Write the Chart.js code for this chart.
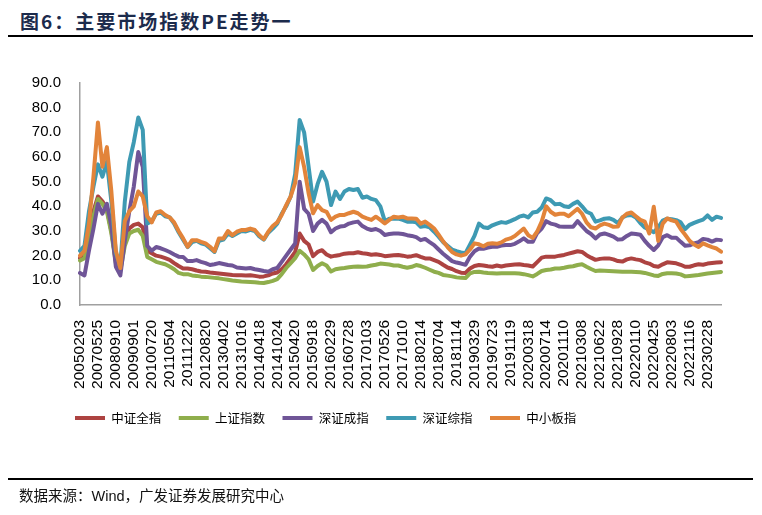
<!DOCTYPE html>
<html>
<head>
<meta charset="utf-8">
<script src="https://cdn.jsdelivr.net/npm/chart.js@4.4.0/dist/chart.umd.min.js"></script>
<style>
html,body{margin:0;padding:0;background:#fff;}
body{width:762px;height:515px;position:relative;overflow:hidden;}
#title{position:absolute;left:20px;top:7px;font-family:"Noto Sans CJK SC",sans-serif;font-weight:bold;font-size:19px;color:#1c2b4c;letter-spacing:2px;white-space:nowrap;line-height:28px;}
#tline{position:absolute;left:8px;top:35px;width:745px;height:2px;background:#000;}
#fline{position:absolute;left:8px;top:478px;width:745px;height:2px;background:#000;}
#foot{position:absolute;left:19px;top:485px;font-family:"Liberation Sans","Noto Sans CJK SC",sans-serif;font-size:14.5px;color:#111;white-space:nowrap;line-height:22px;}
#chartBox{position:absolute;left:0;top:0;width:762px;height:515px;}
</style>
</head>
<body>
<div id="title">图6：主要市场指数PE走势一</div>
<div id="tline"></div>
<div id="chartBox"><canvas id="c" width="762" height="515"></canvas></div>
<div id="fline"></div>
<div id="foot">数据来源：Wind，广发证券发展研究中心</div>
<script>
const tickLabels = ['20050203','20070525','20080910','20090901','20100720','20110504','20111222','20120820','20130402','20131016','20140418','20141024','20150420','20150918','20160229','20160728','20170103','20170526','20171010','20180214','20180704','20181114','20190329','20190723','20191119','20200318','20200714','20201110','20210308','20210622','20210928','20220110','20220425','20220803','20221116','20230228'];
const pointsPerTick = 4;

const seriesNames = ['中证全指','上证指数','深证成指','深证综指','中小板指'];

const csiAll = [19,21,30,38,44,42,39,30,18,15, 26,31,32.5,33,31.5,22,21,20,19.6,19, 18.3,17,15.8,14.8,14.8,14.5,14,13.6,13.5,13.2, 13,12.8,12.6,12.4,12.2,12.1,12.1,12,12.1,11.8, 11.5,11.6,12,12.8,13.2,14.5,16.5,19,21.5,29, 26,24.5,19.8,21.5,22.2,20.5,19.6,20,20.3,20.8, 21,21,21.4,21,20.8,20.4,20.6,20.3,19.8,20, 20.2,20.3,20,19.6,19.8,20.2,19.5,18.9,18.9,18.2, 17.5,16.3,15.2,14.6,13.7,13.1,13,14.8,15.8,16.2, 16,15.7,15.5,16,15.6,16,16.2,16.4,16.5,16.2, 16,15.6,17.4,19.2,19.6,19.6,19.6,20,20.3,20.8, 21.3,21.8,21.5,20.2,19.2,18.3,18.7,18.9,18.9,18.5, 17.8,17.6,18.5,18.9,18.5,18.2,17.3,16.8,15.8,15.5, 16.5,17.3,17.1,16.9,16.3,15.5,15.5,16.1,16.5,16.3, 16.8,17,17.2,17.3];

const sseComp = [18,19,28,36,43,41,38,29,17,14, 24,29,30,30.5,28,19.5,18.5,17.5,17,16.5, 15.6,14.5,13,12.5,12.5,12,11.8,11.5,11.4,11.2, 11,10.8,10.5,10.2,9.9,9.7,9.5,9.4,9.3,9.2, 9,8.9,9.3,9.8,10.5,12.5,15,17,19,22, 20.5,18.5,14.2,15.8,16.9,16,13.6,14.5,14.8,15, 15.3,15.5,15.6,15.5,15.6,16,16.3,16.8,16.6,16.4, 16,16,15.5,15.1,15.5,16.2,15.8,15.1,14.3,13.5, 13,12.2,11.9,11.6,11.2,11,10.9,12.8,13.4,13.5, 13.2,13,12.9,12.8,12.9,12.9,12.9,12.9,12.8,12.5, 12.1,11.6,12.6,13.8,14.2,14.4,14.8,14.8,15.1,15.5, 15.7,16.2,16.5,15.5,14.6,13.8,14,13.9,13.8,13.7, 13.6,13.5,13.5,13.5,13.4,13.3,13,12.5,12,11.8, 12.6,12.9,12.9,12.8,12.4,11.6,11.8,12,12.2,12.5, 12.8,13,13.2,13.4];

const szComponent = [13,12,22,31,41,37,41,32,15.5,12, 26,38,48,62,56,24,22,23.5,23,22.3, 21.5,20.5,19.6,19.5,17.8,17.8,18.2,17.5,17,16.2, 16.5,17,16.6,16.2,16,15.2,15,14.8,15,14.5, 14.2,13.8,13.5,14.5,15,17.5,20,22.5,25,50, 39,37,30,33,34.5,33,29.5,31,31.8,32, 33,33.5,33.8,32,31,30.4,30.8,30,28.4,28.8, 29,29,28.8,28.3,28,27.5,26.3,26.8,25.5,24.3, 22.5,20.8,19.3,17.8,17.2,16.8,16.3,19.6,21.8,22.9, 22.8,23.3,23.6,23.6,24.1,24.3,24.3,24.8,25.8,27, 25.6,25.6,29.2,31,34,33,32.6,31.8,31.7,31.7, 31.7,34,32,30,28.8,27,28.6,29,28.4,27.7, 26.5,26.7,28,29,28.8,28.5,26,24,22.3,24.2, 27.5,28.3,27.3,27.3,25.6,24,24.2,25,25.5,26.8, 26.5,25.7,26.5,26.3];

const szComposite = [22,24,38,48,57,52,58,42,21,16, 42,58,66,76,71,33,34,37,37.5,36, 35.5,33,29.5,26.5,23.5,25.5,26,25,24.5,23, 21.5,26,26.5,29,28,29,30,29.8,30.5,30, 27.8,26.5,29.3,31,33,37,40,44,53,75, 70,56,42,49,54,50,40.5,46,43,46, 47,46.6,47,43.5,44,43,42.5,40,34,35, 35,35,34.5,33.8,33.8,33.5,31.7,32,31.5,29.7, 27.7,25.5,24,22.5,21.8,21.3,21,24.5,28,33, 31.5,31.2,32.3,33,33.6,33.3,34,34.8,35.8,36.3, 35.5,37.5,37.8,39.5,43.2,42.5,40.8,41,40,39.7, 41,41.9,40,37.8,37,33.8,34.3,35,35.2,34.5, 33.2,35.5,36.3,36.5,35.5,33.2,31.4,30.5,29.5,31.5, 34.2,35,34.8,34.4,33.5,30.8,32.5,33.3,34,34.6, 36.3,34.5,35.8,35.3];

const smeBoard = [20,22,33,52,74,56,64,46,22,15, 34,38,40,46,44,36,33.5,37.5,38,36.5, 35.5,33.5,30,27,23.6,26.3,26.3,25.6,25,23.6, 21.8,27,27,30,28.3,29.7,30.4,30.4,31,30.4, 28.3,26.7,29.7,32,33.5,36.5,40.5,44,49.5,64, 56,45.3,37.2,40.5,38.5,37.8,34.5,35.8,36.5,36.5, 37.2,37.8,37.2,35.8,35.1,34.5,35.8,34.5,33.1,34.5, 35.8,35.5,35.8,35.1,35.1,35,33,33.8,32.5,31, 28.5,25.8,23.5,21.5,20.5,20,20.5,22.5,25,24.6, 23.8,24.8,25,24.8,25.4,26.5,27,28,29.5,31, 28.3,27.2,29.8,33.8,40,37.8,36.6,37,37,36, 37.5,39,37,33.5,31.5,31,32.3,33,32.5,31.7, 31.8,35.5,37,37.5,36,34.5,33.8,29,39.8,26, 33,35.1,34.3,33.8,30.8,28.5,26,24.5,23.5,25, 24.2,23.5,22.9,21.6];

const categories = csiAll.map((_, i) => (i % pointsPerTick === 0 && tickLabels[i / pointsPerTick]) ? tickLabels[i / pointsPerTick] : '');

const colors = ['#ad4341','#8fae4c','#6f5597','#3e9ab3','#e2843a'];
const seriesData = [csiAll, sseComp, szComponent, szComposite, smeBoard];

const datasets = seriesData.map((d, k) => ({
  label: seriesNames[k],
  data: d,
  borderColor: colors[k],
  backgroundColor: colors[k],
  borderWidth: 4,
  borderCapStyle: 'round',
  borderJoinStyle: 'round',
  pointRadius: 0,
  pointHoverRadius: 0,
  tension: 0,
  fill: false,
  order: seriesData.length - 1 - k
}));

const legendOffset = {
  id: 'legendOffset',
  afterLayout(chart) {
    if (chart.legend) { chart.legend.left = 57.5; }
  }
};

new Chart(document.getElementById('c'), {
  type: 'line',
  data: { labels: categories, datasets: datasets },
  plugins: [legendOffset],
  options: {
    responsive: false,
    maintainAspectRatio: false,
    animation: false,
    layout: { padding: { left: 20, right: 41, top: 83, bottom: 80.75 } },
    plugins: {
      tooltip: { enabled: false },
      legend: {
        position: 'bottom',
        align: 'start',
        labels: {
          usePointStyle: true,
          pointStyle: 'line',
          pointStyleWidth: 30,
          padding: 17.5,
          color: '#000',
          font: { family: 'Noto Sans CJK SC', size: 12.5 },
          sort: (a, b) => a.datasetIndex - b.datasetIndex
        }
      }
    },
    scales: {
      x: {
        type: 'category',
        grid: { display: false, drawTicks: false },
        border: { display: true, color: '#a0a0a0', width: 1.5 },
        ticks: {
          autoSkip: false, maxRotation: 90, minRotation: 90, padding: 15,
          color: '#000', font: { family: 'Liberation Sans', size: 15.5 }
        },
        afterFit: (s) => { s.height = 89.25; }
      },
      y: {
        min: 0, max: 90,
        grid: { display: false, drawTicks: false },
        border: { display: true, color: '#a0a0a0', width: 1.5 },
        ticks: {
          stepSize: 10, padding: 19, color: '#000',
          font: { family: 'Liberation Sans', size: 15 },
          callback: (v) => Number(v).toFixed(1)
        },
        afterFit: (s) => { s.width = 60; }
      }
    }
  }
});
</script>
</body>
</html>
